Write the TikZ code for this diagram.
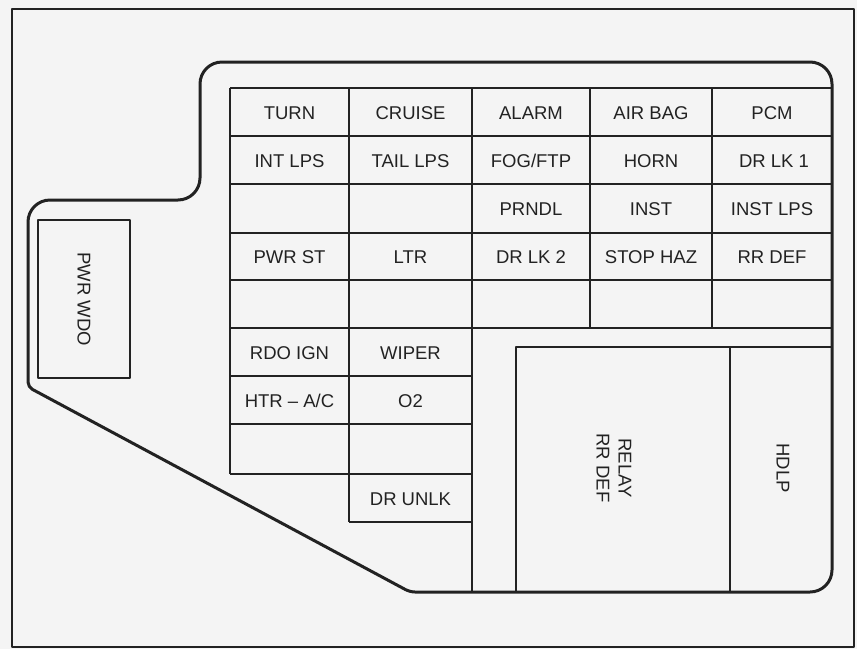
\documentclass[tikz,border=0pt]{standalone}
\usepackage{fontspec}
\setmainfont{Liberation Sans}
\usetikzlibrary{positioning}
\definecolor{paper}{RGB}{244,244,244}
\definecolor{ink}{RGB}{34,34,34}

\begin{document}
\begin{tikzpicture}[x=1pt, y=-1pt, line join=round,
  lbl/.style={font=\fontsize{18.5}{22}\selectfont, text=ink, inner sep=0pt},
  grid/.style={draw=ink, line width=1.4pt},
  shell/.style={draw=ink, line width=3pt}]
  \useasboundingbox[fill=paper] (0,0) rectangle (857,649);
  \draw[draw=ink, line width=1.8pt] (12,9) rectangle (854,647);
  % fuse block outline
  \draw[shell, rounded corners=22pt] (500,62) -- (832,62) -- (832,592)
    [rounded corners=5pt] -- (410,592) -- (28,387)
    [rounded corners=22pt] -- (28,200) -- (200,200) -- (200,62) -- cycle;
  % fuse grid
  \foreach \y in {88,136,184,233,280,328}
    \draw[grid] (230,\y) -- (832,\y);
  \foreach \x in {230,349,472,590,712}
    \draw[grid] (\x,88) -- (\x,328);
  \foreach \y in {376,424,474}
    \draw[grid] (230,\y) -- (472,\y);
  \draw[grid] (349,522) -- (472,522);
  \draw[grid] (230,328) -- (230,474);
  \draw[grid] (349,328) -- (349,522);
  \draw[grid] (472,328) -- (472,592);
  % relay block
  \draw[grid] (516,592) -- (516,347) -- (832,347);
  \draw[grid] (730,347) -- (730,592);
  \draw[grid] (38,220) rectangle (130,378);
  \node[lbl] (turn) at (289.5,113) {TURN};
  \node[lbl] (cruise) at (410.5,113) {CRUISE};
  \node[lbl] (alarm) at (531,113) {ALARM};
  \node[lbl] (airbag) at (651,113) {AIR BAG};
  \node[lbl] (pcm) at (772,113) {PCM};
  \node[lbl] (intlps) at (289.5,161) {INT LPS};
  \node[lbl] (taillps) at (410.5,161) {TAIL LPS};
  \node[lbl] (fogftp) at (531,161) {FOG/FTP};
  \node[lbl] (horn) at (651,161) {HORN};
  \node[lbl] (drlka) at (774,161) {DR LK 1};
  \node[lbl] (prndl) at (531,209.5) {PRNDL};
  \node[lbl] (inst) at (651,209.5) {INST};
  \node[lbl] (instlps) at (772,209.5) {INST LPS};
  \node[lbl] (pwrst) at (289.5,257.5) {PWR ST};
  \node[lbl] (ltr) at (410.5,257.5) {LTR};
  \node[lbl] (drlkb) at (531,257.5) {DR LK 2};
  \node[lbl] (stophaz) at (651,257.5) {STOP HAZ};
  \node[lbl] (rrdef) at (772,257.5) {RR DEF};
  \node[lbl] (rdoign) at (289.5,353) {RDO IGN};
  \node[lbl] (wiper) at (410.5,353) {WIPER};
  \node[lbl] (htrac) at (289.5,401) {HTR – A/C};
  \node[lbl] (otwo) at (410.5,401) {O2};
  \node[lbl] (drunlk) at (410.5,499) {DR UNLK};
  \node[lbl, rotate=-90] (pwrwdo) at (84,299) {PWR WDO};
  \node[lbl, rotate=-90, align=center] (relay) at (614,468) {RELAY\\RR DEF};
  \node[lbl, rotate=-90] (hdlp) at (783,468) {HDLP};
\end{tikzpicture}
\end{document}
